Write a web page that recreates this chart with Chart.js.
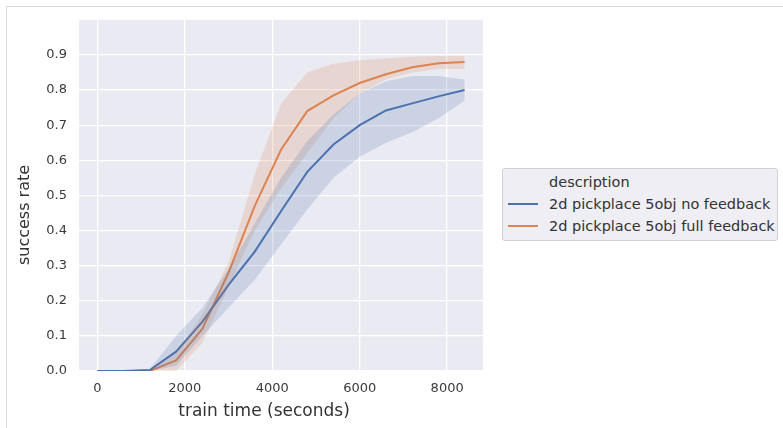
<!DOCTYPE html>
<html>
<head>
<meta charset="utf-8">
<script src="https://cdn.jsdelivr.net/npm/chart.js@4/dist/chart.umd.min.js"></script>
<style>
  body { margin: 0; background: #fff; width: 783px; height: 428px; overflow: hidden; position: relative; font-family: "DejaVu Sans", sans-serif; }
  #frame { position: absolute; left: 6px; top: 6px; width: 780px; height: 430px; border-top: 1px solid #dcdcdc; border-left: 1px solid #dcdcdc; }
  #wrap { position: absolute; left: 0; top: 0; width: 490px; height: 428px; }
  #legend { position: absolute; left: 502px; top: 168px; width: 274px; height: 71px; border: 1px solid #cfcfd6; border-radius: 3px; background: #eeeef4; color: #333; font-size: 14.5px; }
  #legend .row { position: absolute; left: 0; height: 20px; line-height: 20px; white-space: nowrap; }
  #legend .swatch { position: absolute; left: 5px; top: 9px; width: 30px; height: 0; border-top: 2px solid; }
  #legend .txt { position: absolute; left: 46px; }
</style>
</head>
<body>
<div id="frame"></div>
<div id="wrap"><canvas id="myChart" width="490" height="428"></canvas></div>
<div id="legend">
  <div class="row" style="top:3px"><span class="txt">description</span></div>
  <div class="row" style="top:25px"><span class="swatch" style="border-color:#4c72b0"></span><span class="txt">2d pickplace 5obj no feedback</span></div>
  <div class="row" style="top:47px"><span class="swatch" style="border-color:#dd8452"></span><span class="txt">2d pickplace 5obj full feedback</span></div>
</div>
<script>
// train time (seconds) at each evaluation
const xs = [0, 600, 1200, 1800, 2400, 3000, 3600, 4200, 4800, 5400, 6000, 6600, 7200, 7800, 8400];

// 2d pickplace 5obj no feedback
const noFbMean = [0, 0, 0.003, 0.055, 0.14, 0.245, 0.34, 0.455, 0.567, 0.645, 0.70, 0.742, 0.762, 0.782, 0.80];
const noFbLow  = [0, 0, 0, 0.015, 0.10, 0.18, 0.26, 0.36, 0.46, 0.55, 0.61, 0.65, 0.68, 0.72, 0.77];
const noFbHigh = [0, 0, 0.006, 0.10, 0.18, 0.29, 0.42, 0.55, 0.655, 0.73, 0.79, 0.825, 0.84, 0.84, 0.83];

// 2d pickplace 5obj full feedback
const fbMean = [0, 0, 0, 0.03, 0.12, 0.28, 0.47, 0.63, 0.74, 0.785, 0.82, 0.845, 0.865, 0.876, 0.88];
const fbLow  = [0, 0, 0, 0, 0.08, 0.24, 0.40, 0.52, 0.62, 0.72, 0.79, 0.83, 0.85, 0.86, 0.86];
const fbHigh = [0, 0, 0, 0.05, 0.16, 0.31, 0.56, 0.76, 0.85, 0.875, 0.885, 0.89, 0.895, 0.897, 0.897];

const xTicks = [0, 2000, 4000, 6000, 8000];
const yTicks = [0, 0.1, 0.2, 0.3, 0.4, 0.5, 0.6, 0.7, 0.8, 0.9];

const pts = (arr) => arr.map((y, i) => ({ x: xs[i], y: y }));

const blue = "#4c72b0";
const orange = "#dd8452";

// grey plot background + axis titles placed like the original
const decor = {
  id: "decor",
  beforeDraw(chart) {
    const { ctx, chartArea: a } = chart;
    ctx.save();
    ctx.fillStyle = "#eaeaf2";
    ctx.fillRect(a.left, a.top, a.right - a.left, a.bottom - a.top);
    ctx.restore();
  },
  afterDraw(chart) {
    const ctx = chart.ctx;
    ctx.save();
    ctx.fillStyle = "#333";
    ctx.textAlign = "center";
    ctx.textBaseline = "middle";
    ctx.font = "17px 'DejaVu Sans'";
    ctx.fillText("train time (seconds)", 264, 412);
    ctx.translate(25, 215);
    ctx.rotate(-Math.PI / 2);
    ctx.font = "16px 'DejaVu Sans'";
    ctx.fillText("success rate", 0, 0);
    ctx.restore();
  },
};

const band = (data, color, fill) => ({
  data: data,
  borderWidth: 0,
  pointRadius: 0,
  fill: fill,
  backgroundColor: color,
});

const ctx = document.getElementById("myChart").getContext("2d");
new Chart(ctx, {
  type: "line",
  data: {
    datasets: [
      band(pts(noFbLow), "rgba(76, 114, 176, 0.2)", false),
      band(pts(noFbHigh), "rgba(76, 114, 176, 0.2)", "-1"),
      band(pts(fbLow), "rgba(221, 132, 82, 0.2)", false),
      band(pts(fbHigh), "rgba(221, 132, 82, 0.2)", "-1"),
      {
        label: "2d pickplace 5obj no feedback",
        data: pts(noFbMean),
        borderColor: blue,
        borderWidth: 2,
        pointRadius: 0,
        fill: false,
      },
      {
        label: "2d pickplace 5obj full feedback",
        data: pts(fbMean),
        borderColor: orange,
        borderWidth: 2,
        pointRadius: 0,
        fill: false,
      },
    ],
  },
  options: {
    responsive: false,
    animation: false,
    layout: { padding: { left: 0, top: 10, right: 7, bottom: 0 } },
    plugins: {
      legend: { display: false },
      tooltip: { enabled: false },
    },
    scales: {
      x: {
        type: "linear",
        min: -420,
        max: 8820,
        afterBuildTicks: (s) => { s.ticks = xTicks.map((v) => ({ value: v })); },
        afterFit: (s) => { s.height = 57; },
        grid: { color: "#ffffff", lineWidth: 1.3, drawTicks: false },
        border: { display: false },
        ticks: {
          color: "#3a3a3a",
          padding: 10,
          font: { family: "DejaVu Sans", size: 13 },
          maxRotation: 0,
          callback: (v) => String(v),
        },
      },
      y: {
        min: 0,
        max: 1.0,
        afterBuildTicks: (s) => { s.ticks = yTicks.map((v) => ({ value: v })); },
        afterFit: (s) => { s.width = 79; },
        grid: { color: "#ffffff", lineWidth: 1.3, drawTicks: false },
        border: { display: false },
        ticks: {
          color: "#3a3a3a",
          padding: 12,
          font: { family: "DejaVu Sans", size: 13 },
          callback: (v) => Number(v).toFixed(1),
        },
      },
    },
  },
  plugins: [decor],
});
</script>
</body>
</html>
